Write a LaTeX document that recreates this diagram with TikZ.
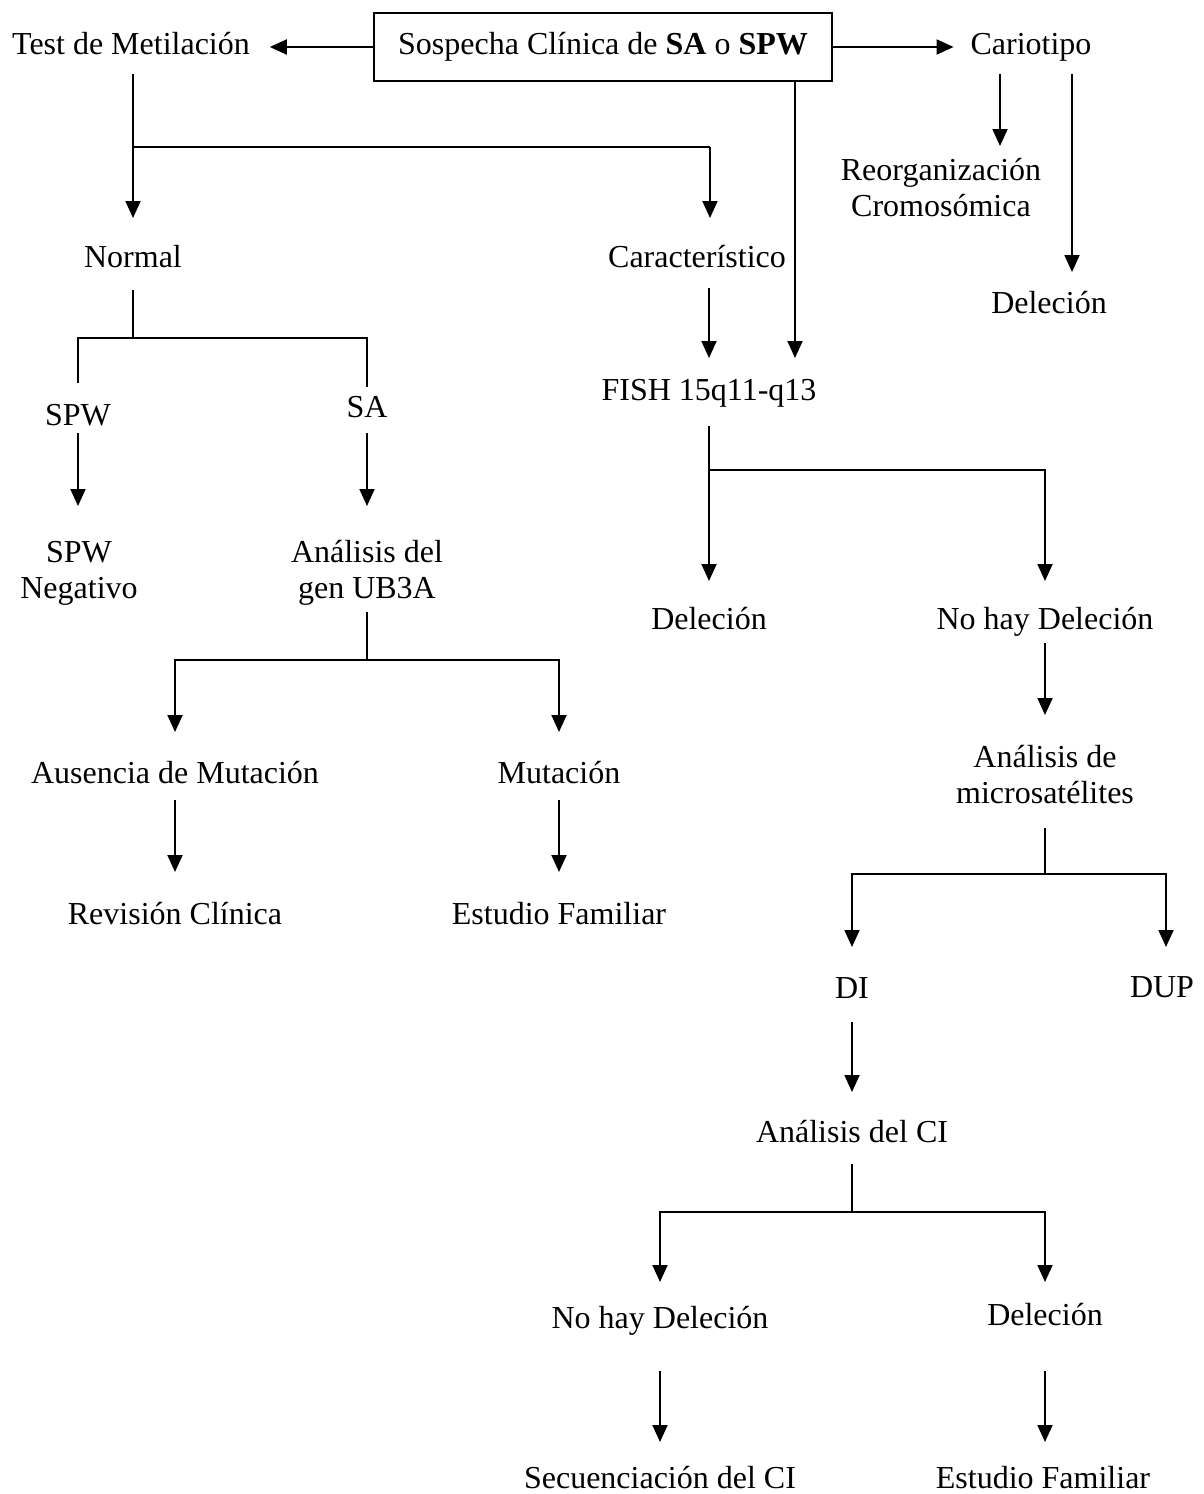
\documentclass[tikz,border=0pt]{standalone}
\usepackage{fontspec}
\setmainfont{Liberation Serif}
\usetikzlibrary{arrows.meta}

\begin{document}
\begin{tikzpicture}
		[x=1pt, y=-1pt, line width=1.9pt,
		>={Triangle[length=17pt, width=15pt]},
		lbl/.style={inner sep=0pt, anchor=base, font=\fontsize{32}{36}\selectfont},
		lbltwo/.style={lbl, align=center}]
		\useasboundingbox (0,0) rectangle (1203,1494);

		% nodes
		\node[lbl, draw, anchor=center, text height=22pt, text depth=7pt, minimum width=458pt, minimum height=68pt] (sosp) at (603,47) {Sospecha Clínica de \textbf{SA} o \textbf{SPW}};
		\node[lbl] (test) at (131,54) {Test de Metilación};
		\node[lbl] (cario) at (1031,54) {Cariotipo};
		\node[lbl] (normal) at (133,267) {Normal};
		\node[lbl] (carac) at (697,267) {Característico};
		\node[lbltwo] (reorg) at (941,216) {Reorganización\\Cromosómica};
		\node[lbl] (delk) at (1049,313) {Deleción};
		\node[lbl] (fish) at (709,400) {FISH 15q11-q13};
		\node[lbl] (spw) at (78,425) {SPW};
		\node[lbl] (sa) at (367,417) {SA};
		\node[lbltwo] (spwneg) at (79,598) {SPW\\Negativo};
		\node[lbltwo] (ube) at (367,598) {Análisis del\\gen UB3A};
		\node[lbl] (dela) at (709,629) {Deleción};
		\node[lbl] (nodel) at (1045,629) {No hay Deleción};
		\node[lbl] (ausen) at (175,783) {Ausencia de Mutación};
		\node[lbl] (mutac) at (559,783) {Mutación};
		\node[lbl] (revis) at (175,924) {Revisión Clínica};
		\node[lbl] (estfa) at (559,924) {Estudio Familiar};
		\node[lbltwo] (micro) at (1045,803) {Análisis de\\microsatélites};
		\node[lbl] (di) at (852,998) {DI};
		\node[lbl] (dup) at (1162,997) {DUP};
		\node[lbl] (anaci) at (852,1142) {Análisis del CI};
		\node[lbl] (nodelb) at (660,1328) {No hay Deleción};
		\node[lbl] (delb) at (1045,1325) {Deleción};
		\node[lbl] (secu) at (660,1488) {Secuenciación del CI};
		\node[lbl] (estfb) at (1043,1488) {Estudio Familiar};

		% branch points
		\coordinate (j1) at (133,147);
		\coordinate (j2) at (710,147);
		\coordinate (j3) at (133,338);
		\coordinate (j4) at (367,660);
		\coordinate (j5) at (709,470);
		\coordinate (j6) at (1045,874);
		\coordinate (j7) at (852,1212);

		% top row
		\draw[->, shorten >=19pt] (sosp.west) -- (sosp.west -| test.east);
		\draw[->, shorten >=16pt] (sosp.east) -- (sosp.east -| cario.west);
		\draw[shorten <=20pt] (test.base -| j1) -- (j1) -- (j2);
		\draw[->, shorten >=49pt] (j1) -- (j1 |- normal.base);
		\draw[->, shorten >=49pt] (j2) -- (j2 |- carac.base);
		\draw[->, shorten >=42pt] ([xshift=192pt]sosp.south) -- ([xshift=192pt]sosp.south |- fish.base);
		\draw[->, shorten <=21pt, shorten >=42pt] (carac.base -| fish.base) -- (fish.base);
		\draw[->, shorten <=20pt, shorten >=70pt] ([xshift=-31pt]cario.base) -- ([xshift=-31pt]cario.base |- reorg.base);
		\draw[->, shorten <=20pt, shorten >=41pt] ([xshift=41pt]cario.base) -- ([xshift=41pt]cario.base |- delk.base);

		% left branch
		\draw[shorten <=23pt] (normal.base) -- (j3);
		\draw[shorten >=42pt] (j3) -| (spw.base);
		\draw[shorten >=30pt] (j3) -| (sa.base);
		\draw[->, shorten <=8pt, shorten >=92pt] (spw.base) -- (spw.base |- spwneg.base);
		\draw[->, shorten <=16pt, shorten >=92pt] (sa.base) -- (sa.base |- ube.base);
		\draw[shorten <=14pt] (ube.base) -- (j4);
		\draw[->, shorten >=51pt] (j4) -| (ausen.base);
		\draw[->, shorten >=51pt] (j4) -| (mutac.base);
		\draw[->, shorten <=17pt, shorten >=52pt] (ausen.base) -- (revis.base);
		\draw[->, shorten <=17pt, shorten >=52pt] (mutac.base) -- (estfa.base);

		% FISH branch
		\draw[shorten <=26pt] (fish.base) -- (j5);
		\draw[->, shorten >=48pt] (j5) -- (dela.base);
		\draw[->, shorten >=48pt] (j5) -| (nodel.base);
		\draw[->, shorten <=14pt, shorten >=88pt] (nodel.base) -- (micro.base);
		\draw[shorten <=25pt] (micro.base) -- (j6);
		\draw[->, shorten >=51pt] (j6) -| (di.base);
		\draw[->, shorten >=50pt] (j6) -| ([xshift=4pt]dup.base);
		\draw[->, shorten <=24pt, shorten >=50pt] (di.base) -- (anaci.base);
		\draw[shorten <=22pt] (anaci.base) -- (j7);
		\draw[->, shorten >=46pt] (j7) -| (nodelb.base);
		\draw[->, shorten >=43pt] (j7) -| (delb.base);
		\draw[->, shorten <=43pt, shorten >=46pt] (nodelb.base) -- (secu.base);
		\draw[->, shorten <=46pt, shorten >=46pt] (delb.base) -- (delb.base |- estfb.base);
	\end{tikzpicture}
\end{document}
